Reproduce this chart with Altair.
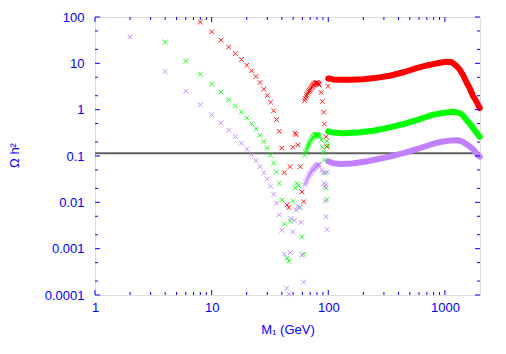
import altair as alt
import pandas as pd

# ---------------- data ----------------
SERIES = ["red", "green", "purple"]
COLORS = ["#ff0000", "#00ff00", "#c080ff"]

# scattered markers (low masses and the Z/h resonance region)
RED_X = [8, 10, 12, 14, 16, 18, 20, 22, 24, 26, 28, 30, 32, 34, 36, 38, 40, 42,
         44.4, 46, 47, 49.6, 52, 53, 55, 57.5, 59.5, 61.6,
         62.7, 63.5, 64.6, 65.5, 66.8, 68, 69, 70, 71, 72.2, 73, 74, 75, 76, 77, 78,
         79, 80, 81, 82, 83, 83.8,
         87, 89, 91.4, 92.6, 95.6, 97.1, 99.3]
RED_Y = [77.6, 48, 31.7, 22.4, 16.3, 12.1, 9.1, 6.9, 5.2, 3.85, 2.77, 2.02, 1.45, 0.95,
         0.61, 0.34, 0.147, 0.044,
         0.0088, 0.0077, 0.059, 0.155, 0.31, 0.29, 0.174, 0.059, 0.0168, 0.0104,
         1.57, 1.75, 1.95, 2.1, 2.27, 2.45, 2.6, 2.75, 2.9, 3.06, 3.2, 3.35, 3.45, 3.6,
         3.7, 3.78, 3.83, 3.85, 3.8, 3.7, 3.55, 3.4,
         2.35, 1.5, 0.88, 0.49, 0.26, 0.16, 3.2]

GREEN_X = [4, 6, 8, 10, 12, 14, 16, 18, 20, 22, 24, 26, 28, 30, 32, 34, 36, 38, 40, 42,
           44.2, 46, 47.3, 49.6, 52, 53.8, 55.7, 57, 59.5, 61.6,
           62.7, 64, 65, 66, 67, 68, 69, 70, 71, 72, 73, 74, 75, 76, 77, 78, 79, 80,
           81, 82, 83, 84,
           87, 89, 91.4, 92.6, 94.5, 95.6, 97, 97.5, 99.3]
GREEN_Y = [28.7, 11.1, 5.85, 3.55, 2.39, 1.65, 1.21, 0.9, 0.665, 0.5, 0.385, 0.28, 0.205,
           0.15, 0.104, 0.07, 0.045, 0.0255, 0.0113, 0.0034,
           0.00062, 0.00054, 0.0039, 0.0108, 0.0203, 0.0255, 0.023, 0.0078, 0.0018, 0.00076,
           0.104, 0.12, 0.135, 0.15, 0.163, 0.178, 0.19, 0.205, 0.22, 0.232, 0.245, 0.255,
           0.265, 0.275, 0.282, 0.288, 0.293, 0.295, 0.293, 0.285, 0.275, 0.26,
           0.22, 0.155, 0.12, 0.083, 0.043, 0.0203, 0.0115, 0.21, 0.165]

PURPLE_X = [2, 4, 6, 8, 10, 12, 14, 16, 18, 20, 22, 24, 26, 28, 30, 32, 34, 36, 38, 40, 42,
            44, 46, 47.3, 48, 49.6, 51.5, 53, 55, 57, 58.5, 59.5, 61.6,
            62.7, 64, 65, 66, 67, 68, 69, 70, 71, 72, 73, 74, 75, 76, 77, 78, 79, 80,
            81, 82, 83, 84,
            88, 90.5, 92.6, 93.5, 94.5, 95.6, 95.6, 97.5, 98]
PURPLE_Y = [37, 6.65, 2.5, 1.29, 0.78, 0.52, 0.36, 0.263, 0.189, 0.142, 0.107, 0.08, 0.059,
            0.044, 0.032, 0.0222, 0.015, 0.0096, 0.0054, 0.0025, 0.00076,
            0.00014, 0.000105, 0.00082, 0.0045, 0.0023, 0.0041, 0.0068, 0.0082, 0.0077,
            0.0037, 0.00073, 0.00019,
            0.0237, 0.026, 0.028, 0.031, 0.034, 0.037, 0.039, 0.042, 0.044, 0.047, 0.049,
            0.051, 0.053, 0.055, 0.057, 0.059, 0.061, 0.063, 0.064, 0.065, 0.065, 0.064,
            0.05, 0.043, 0.026, 0.022, 0.0107, 0.0049, 0.024, 0.0026, 0.045]

# dense bands above 100 GeV
RED_BAND_X = [100, 110, 126, 160, 200, 250, 337, 450, 571, 700, 850, 1032, 1150, 1257,
              1340, 1432, 1530, 1634, 1746, 1864, 1990]
RED_BAND_Y = [4.7, 4.5, 4.4, 4.4, 4.55, 4.8, 5.4, 6.5, 7.9, 9.0, 10.0, 10.8, 10.5, 8.8,
              7.3, 5.6, 3.9, 2.9, 1.95, 1.5, 1.08]
GREEN_BAND_X = [100, 110, 134, 180, 243, 330, 469, 600, 794, 1000, 1175, 1342, 1432,
                1530, 1634, 1746, 1864, 1990]
GREEN_BAND_Y = [0.34, 0.32, 0.31, 0.32, 0.35, 0.41, 0.51, 0.62, 0.78, 0.86, 0.9, 0.84,
                0.74, 0.6, 0.5, 0.4, 0.32, 0.26]
PURPLE_BAND_X = [100, 110, 126, 160, 213, 337, 450, 571, 750, 904, 1100, 1297, 1432,
                 1530, 1634, 1746, 1864, 1990]
PURPLE_BAND_Y = [0.077, 0.07, 0.067, 0.069, 0.076, 0.097, 0.117, 0.14, 0.175, 0.2,
                 0.215, 0.22, 0.2, 0.18, 0.16, 0.14, 0.114, 0.097]

HLINE = [0.115]

X_MAJOR = [1, 10, 100, 1000]
X_MINOR = [2, 3, 4, 5, 6, 7, 8, 9, 20, 30, 40, 50, 60, 70, 80, 90,
           200, 300, 400, 500, 600, 700, 800, 900]
Y_MAJOR = [0.0001, 0.001, 0.01, 0.1, 1, 10, 100]
Y_MINOR = [0.0002, 0.0005, 0.002, 0.005, 0.02, 0.05, 0.2, 0.5, 2, 5, 20, 50]

# ---------------- tables ----------------
pts = pd.concat([
    pd.DataFrame({"x": RED_X, "y": RED_Y, "s": "red"}),
    pd.DataFrame({"x": GREEN_X, "y": GREEN_Y, "s": "green"}),
    pd.DataFrame({"x": PURPLE_X, "y": PURPLE_Y, "s": "purple"}),
])
band = pd.concat([
    pd.DataFrame({"x": RED_BAND_X, "y": RED_BAND_Y, "s": "red"}),
    pd.DataFrame({"x": GREEN_BAND_X, "y": GREEN_BAND_Y, "s": "green"}),
    pd.DataFrame({"x": PURPLE_BAND_X, "y": PURPLE_BAND_Y, "s": "purple"}),
])

W, H = 385, 278
BLUE = "#0000ff"
FONT = "Liberation Sans"
XPATH = "M-1,-1L1,1M-1,1L1,-1"

xscale = alt.Scale(type="log", domain=[1, 2000], nice=False)
yscale = alt.Scale(type="log", domain=[0.0001, 100], nice=False)
cscale = alt.Scale(domain=SERIES, range=COLORS)

xaxis = alt.Axis(values=X_MAJOR, format="~g", ticks=False, domain=False,
                 grid=False, labelPadding=6, labelFlush=False,
                 title="M₁ (GeV)", titleY=38, titleBaseline="alphabetic")
yaxis = alt.Axis(values=Y_MAJOR, format="~g", ticks=False, domain=False,
                 grid=False, labelPadding=11, labelFlush=False,
                 title="Ω h²", titleX=-77, titleY=138, titleAngle=-90,
                 titleBaseline="alphabetic", titleAlign="center")

X = lambda f: alt.X(f, scale=xscale, axis=xaxis)
Y = lambda f: alt.Y(f, scale=yscale, axis=yaxis)

points = alt.Chart(pts).mark_point(shape=XPATH, filled=False, size=22,
                                   strokeWidth=1, opacity=0.9).encode(
    x=X("x:Q"), y=Y("y:Q"),
    color=alt.Color("s:N", scale=cscale, legend=None),
)

hline = alt.Chart(pd.DataFrame({"y": HLINE})).mark_rule(
    color="#606060", strokeWidth=2).encode(y=Y("y:Q"))

bands = alt.Chart(band).mark_line(strokeWidth=6, strokeCap="round",
                                  strokeJoin="round").encode(
    x=X("x:Q"), y=Y("y:Q"),
    color=alt.Color("s:N", scale=cscale, legend=None),
    detail="s:N",
)


def yticks(vals, length):
    d = pd.DataFrame({"y": vals})
    left = alt.Chart(d).mark_rule(color=BLUE, strokeWidth=1).encode(
        y=Y("y:Q"), x=alt.value(0), x2=alt.value(length))
    right = alt.Chart(d).mark_rule(color=BLUE, strokeWidth=1).encode(
        y=Y("y:Q"), x=alt.value(W), x2=alt.value(W - length))
    return [left, right]


def xticks(vals, length):
    d = pd.DataFrame({"x": vals})
    bottom = alt.Chart(d).mark_rule(color=BLUE, strokeWidth=1).encode(
        x=X("x:Q"), y=alt.value(H), y2=alt.value(H - length))
    top = alt.Chart(d).mark_rule(color=BLUE, strokeWidth=1).encode(
        x=X("x:Q"), y=alt.value(0), y2=alt.value(length))
    return [bottom, top]


ticks = yticks(Y_MAJOR, 5) + yticks(Y_MINOR, 3) + xticks(X_MAJOR, 5) + xticks(X_MINOR, 3)

chart = alt.layer(hline, bands, points, *ticks).properties(
    width=W, height=H,
    autosize=alt.AutoSizeParams(type="none"),
    padding={"left": 87, "top": 9, "right": 12, "bottom": 45},
).configure_view(stroke=BLUE, strokeWidth=1).configure(
    background="white"
).configure_axis(
    labelColor=BLUE, labelFont=FONT, labelFontSize=13, tickSize=0,
    titleColor=BLUE, titleFont=FONT, titleFontSize=13, titleFontWeight="normal",
)

chart.save("out.html", embed_options={"renderer": "svg", "actions": False})
